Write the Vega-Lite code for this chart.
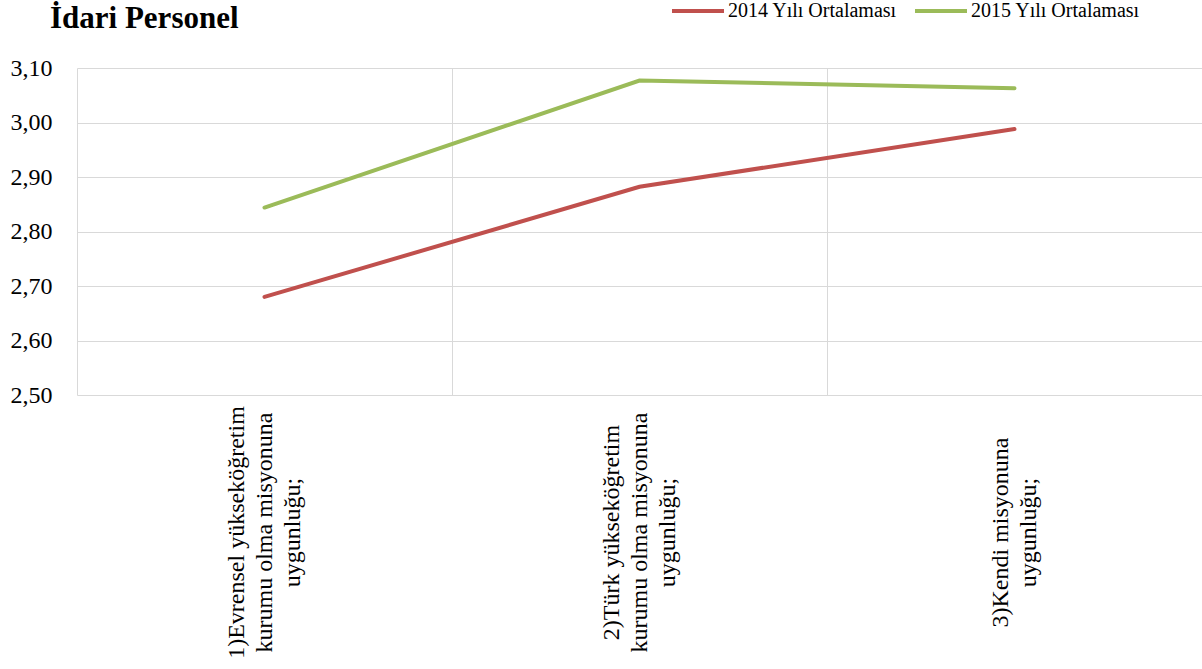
{
  "$schema": "https://vega.github.io/schema/vega-lite/v6.json",
  "autosize": "none",
  "width": 1125,
  "height": 327,
  "padding": {"left": 77, "top": 68, "right": 0, "bottom": 274},
  "background": "white",
  "title": {
    "text": "İdari Personel",
    "anchor": "start",
    "frame": "group",
    "font": "Liberation Serif",
    "fontSize": 31,
    "fontWeight": "bold",
    "color": "#000000",
    "dx": -27,
    "offset": -52
  },
  "data": {
    "values": [
      {"kategori": "1)Evrensel yükseköğretim|kurumu olma misyonuna|uygunluğu;", "seri": "2014 Yılı Ortalaması", "deger": 2.68},
      {"kategori": "2)Türk yükseköğretim|kurumu olma misyonuna|uygunluğu;", "seri": "2014 Yılı Ortalaması", "deger": 2.882},
      {"kategori": "3)Kendi misyonuna|uygunluğu;", "seri": "2014 Yılı Ortalaması", "deger": 2.988},
      {"kategori": "1)Evrensel yükseköğretim|kurumu olma misyonuna|uygunluğu;", "seri": "2015 Yılı Ortalaması", "deger": 2.844},
      {"kategori": "2)Türk yükseköğretim|kurumu olma misyonuna|uygunluğu;", "seri": "2015 Yılı Ortalaması", "deger": 3.077},
      {"kategori": "3)Kendi misyonuna|uygunluğu;", "seri": "2015 Yılı Ortalaması", "deger": 3.063}
    ]
  },
  "mark": {"type": "line", "strokeWidth": 4, "strokeCap": "round"},
  "encoding": {
    "x": {
      "field": "kategori",
      "type": "nominal",
      "sort": null,
      "scale": {"type": "band", "paddingInner": 0, "paddingOuter": 0},
      "axis": {
        "title": null,
        "labelAngle": -90,
        "labelAlign": "center",
        "labelBaseline": "middle",
        "labelExpr": "isValid(datum.value) ? split(datum.value, '|') : ''",
        "labelFont": "Liberation Serif",
        "labelFontSize": 24,
        "labelLineHeight": 28,
        "labelColor": "#000000",
        "labelPadding": 137,
        "labelOffset": {"condition": {"test": "isValid(datum.value) && indexof(datum.value, '3)') == 0", "value": -14}, "value": -28},
        "labelLimit": 400,
        "ticks": false,
        "domain": false,
        "grid": true,
        "gridColor": "#D9D9D9",
        "gridWidth": 1,
        "tickBand": "extent"
      }
    },
    "y": {
      "field": "deger",
      "type": "quantitative",
      "scale": {"domain": [2.5, 3.1], "nice": false, "zero": false},
      "axis": {
        "title": null,
        "values": [2.5, 2.6, 2.7, 2.8, 2.9, 3.0, 3.1],
        "labelExpr": "replace(format(datum.value, '.2f'), '.', ',')",
        "labelFont": "Liberation Serif",
        "labelFontSize": 24,
        "labelColor": "#000000",
        "labelPadding": 25,
        "ticks": false,
        "domain": false,
        "grid": true,
        "gridColor": "#D9D9D9",
        "gridWidth": 1
      }
    },
    "color": {
      "field": "seri",
      "type": "nominal",
      "scale": {"range": ["#C0504D", "#9BBB59"]},
      "legend": {
        "title": null,
        "orient": "none",
        "direction": "horizontal",
        "legendX": 593,
        "legendY": -85,
        "symbolType": "stroke",
        "symbolSize": 2704,
        "symbolStrokeWidth": 4,
        "labelFont": "Liberation Serif",
        "labelFontSize": 20,
        "labelColor": "#000000",
        "labelOffset": 2,
        "labelLimit": 300,
        "columnPadding": 10
      }
    }
  },
  "config": {"view": {"stroke": null}}
}
